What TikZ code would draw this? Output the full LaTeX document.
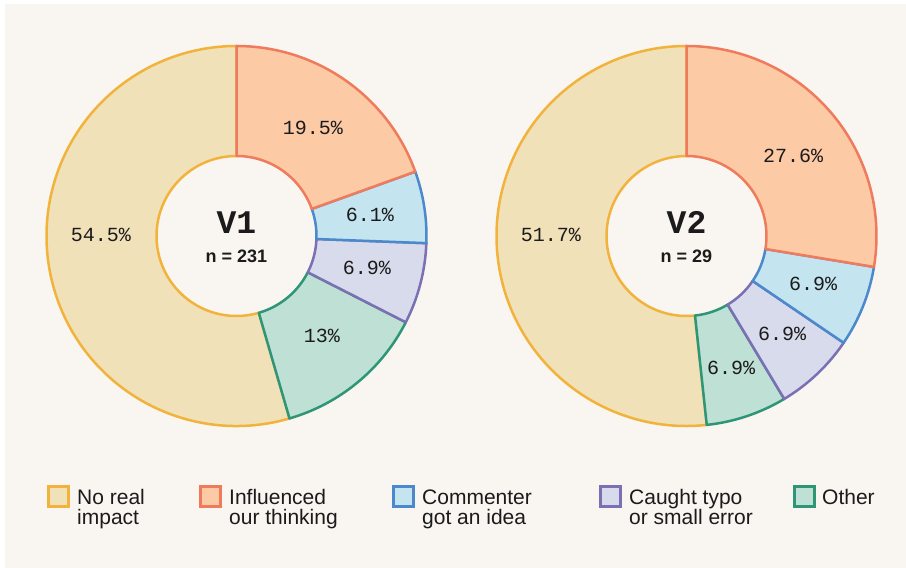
\documentclass[tikz,border=0pt]{standalone}
\usepackage{fontspec}
\setmainfont{Liberation Sans}
\newfontfamily\pctfont{Liberation Mono}
\usetikzlibrary{calc}
\definecolor{bgc}{HTML}{F9F5F0}
\definecolor{tanF}{HTML}{F1E1B9}\definecolor{tanD}{HTML}{F2B33D}
\definecolor{peaF}{HTML}{FDCAA6}\definecolor{peaD}{HTML}{EF7B5C}
\definecolor{bluF}{HTML}{C4E4EF}\definecolor{bluD}{HTML}{4C89CC}
\definecolor{lavF}{HTML}{D8DBEB}\definecolor{lavD}{HTML}{7A70B3}
\definecolor{minF}{HTML}{BEE0D5}\definecolor{minD}{HTML}{2F9577}
\definecolor{ink}{HTML}{1B1B1B}
\newcommand{\ringpart}[6]{%
  \filldraw[fill=#5,draw=#6,line width=2.5pt,line join=round]
    ($(#1)+(#3:190)$) arc[start angle=#3,end angle=#4,radius=190]
    -- ($(#1)+(#4:80)$) arc[start angle=#4,end angle=#3,radius=80] -- cycle;}
\tikzset{
  pct/.style={font=\pctfont\fontsize{20}{24}\selectfont,text=ink,inner sep=0pt,anchor=base},
  ttl/.style={font=\pctfont\bfseries\fontsize{33}{38}\selectfont,text=ink,inner sep=0pt,anchor=base},
  cnt/.style={font=\bfseries\fontsize{18}{22}\selectfont,text=ink,inner sep=0pt,anchor=base},
  leg/.style={font=\fontsize{21}{24}\selectfont,text=ink,inner sep=0pt,anchor=base west},
  legbox/.style={line width=2.5pt,minimum size=20pt,inner sep=0pt,anchor=south west}
}
\begin{document}
\begin{tikzpicture}[x=1pt,y=1pt]
\useasboundingbox (0,0) rectangle (906,568);
\fill[white] (0,0) rectangle (906,568);
\fill[bgc] (5,0) rectangle (906,564);
\coordinate (c1) at (236.5,332);
\coordinate (c2) at (686.5,332);
% V1
\ringpart{c1}{}{-73.8}{-270}{tanF}{tanD}
\ringpart{c1}{}{-27}{-73.8}{minF}{minD}
\ringpart{c1}{}{-2.16}{-27}{lavF}{lavD}
\ringpart{c1}{}{19.8}{-2.16}{bluF}{bluD}
\ringpart{c1}{}{90}{19.8}{peaF}{peaD}
% V2
\ringpart{c2}{}{-83.88}{-270}{tanF}{tanD}
\ringpart{c2}{}{-59.04}{-83.88}{minF}{minD}
\ringpart{c2}{}{-34.2}{-59.04}{lavF}{lavD}
\ringpart{c2}{}{-9.36}{-34.2}{bluF}{bluD}
\ringpart{c2}{}{90}{-9.36}{peaF}{peaD}
% labels V1
\node[pct] (a1) at (313,433.5) {19.5\%};
\node[pct] (a2) at (370,346.5) {6.1\%};
\node[pct] (a3) at (367,293.5) {6.9\%};
\node[pct] (a4) at (322,225) {13\%};
\node[pct] (a5) at (101,326.5) {54.5\%};
\node[ttl] (t1) at (236.5,334) {V1};
\node[cnt] (n1) at (236.5,305.3) {n = 231};
% labels V2
\node[pct] (b1) at (793,405) {27.6\%};
\node[pct] (b2) at (813,277.5) {6.9\%};
\node[pct] (b3) at (782,227.5) {6.9\%};
\node[pct] (b4) at (731,193.5) {6.9\%};
\node[pct] (b5) at (551,326.5) {51.7\%};
\node[ttl] (t2) at (686.5,334) {V2};
\node[cnt] (n2) at (686.5,305.3) {n = 29};
% legend
\node[legbox,fill=tanF,draw=tanD] (k1) at (47,60) {};
\node[leg] (l1a) at (77,63) {No real};
\node[leg] (l1b) at (77,43) {impact};
\node[legbox,fill=peaF,draw=peaD] (k2) at (199,60) {};
\node[leg] (l2a) at (229,63) {Influenced};
\node[leg] (l2b) at (229,43) {our thinking};
\node[legbox,fill=bluF,draw=bluD] (k3) at (392,60) {};
\node[leg] (l3a) at (422,63) {Commenter};
\node[leg] (l3b) at (422,43) {got an idea};
\node[legbox,fill=lavF,draw=lavD] (k4) at (599,60) {};
\node[leg] (l4a) at (629,63) {Caught typo};
\node[leg] (l4b) at (629,43) {or small error};
\node[legbox,fill=minF,draw=minD] (k5) at (793,60) {};
\node[leg] (l5a) at (822,63) {Other};
\end{tikzpicture}
\end{document}
